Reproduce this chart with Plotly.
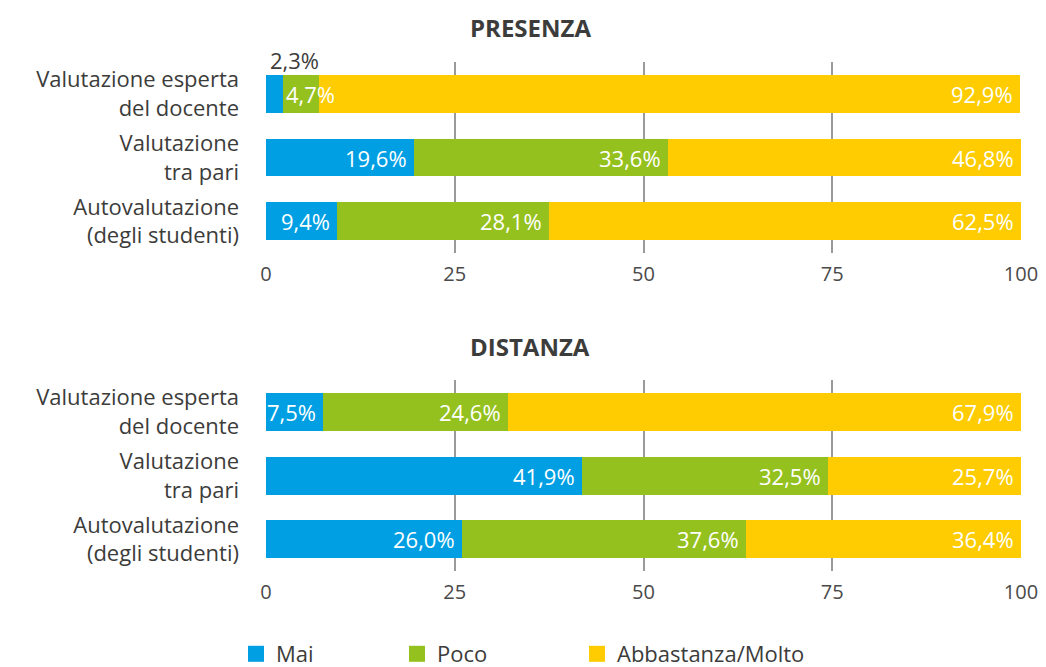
import plotly.graph_objects as go

categories = ["Valutazione esperta<br>del docente", "Valutazione<br>tra pari", "Autovalutazione<br>(degli studenti)"]
series_names = ["Mai", "Poco", "Abbastanza/Molto"]
colors = ["#009FE3", "#95C11F", "#FECC00"]

presenza_mai = [2.3, 19.6, 9.4]
presenza_poco = [4.7, 33.6, 28.1]
presenza_abb = [92.9, 46.8, 62.5]

distanza_mai = [7.5, 41.9, 26.0]
distanza_poco = [24.6, 32.5, 37.6]
distanza_abb = [67.9, 25.7, 36.4]

panel_titles = ["PRESENZA", "DISTANZA"]
tick_vals = [0, 25, 50, 75, 100]

FONT = "Open Sans"
DARK = "#3C3C3B"
# page has an 8px body margin; figure coordinates are page coordinates minus 8
W, H = 1038, 667
ML, MR = 258, 25
PW = W - ML - MR

def py(pix):
    return 1 - pix / H

def px(pix):
    return (pix - ML) / PW

fig = go.Figure()
panels = [
    ([presenza_mai, presenza_poco, presenza_abb], "x", "y", (54, 246), 20),
    ([distanza_mai, distanza_poco, distanza_abb], "x2", "y2", (373, 565), 340),
]
annotations = []
for pi, (vals, xa, ya, (top, bot), title_y) in enumerate(panels):
    cum = [0.0] * len(categories)
    for si, (name, col, v) in enumerate(zip(series_names, colors, vals)):
        fig.add_trace(go.Bar(
            y=categories, x=v, orientation="h", name=name,
            marker=dict(color=col, line=dict(width=0)),
            xaxis=xa, yaxis=ya, showlegend=False, hoverinfo="skip",
        ))
        for ci, val in enumerate(v):
            txt = f"{val:.1f}".replace(".", ",") + "%"
            start = cum[ci]
            end = min(cum[ci] + val, 100)
            if val < 3:
                annotations.append(dict(x=start, y=categories[ci], xref=xa, yref=ya, text=txt,
                                        showarrow=False, xanchor="left", xshift=2, yshift=34,
                                        font=dict(family=FONT, size=22, color=DARK)))
            elif val < 6:
                annotations.append(dict(x=start, y=categories[ci], xref=xa, yref=ya, text=txt,
                                        showarrow=False, xanchor="left", xshift=1,
                                        font=dict(family=FONT, size=22, color="white")))
            else:
                annotations.append(dict(x=end, y=categories[ci], xref=xa, yref=ya, text=txt,
                                        showarrow=False, xanchor="right", xshift=-5,
                                        font=dict(family=FONT, size=22, color="white")))
            cum[ci] = cum[ci] + val
    annotations.append(dict(x=px(522), y=py(title_y), xref="paper", yref="paper",
                            text=f"<b>{panel_titles[pi]}</b>", showarrow=False,
                            xanchor="center", yanchor="middle",
                            font=dict(family=FONT, size=24, color=DARK)))

# legend entries (square markers)
legend_ids = ["legend", "legend2", "legend3"]
for name, col, lid in zip(series_names, colors, legend_ids):
    fig.add_trace(go.Scatter(
        x=[None], y=[None], mode="markers", name=name, legend=lid,
        marker=dict(symbol="square", size=18, color=col),
        xaxis="x", yaxis="y", hoverinfo="skip", showlegend=True,
    ))

axis_common = dict(range=[0, 100], tickvals=tick_vals, showgrid=True, gridcolor="#9A9A9A",
                   gridwidth=2, zeroline=False, showline=False, ticks="", ticklabelstandoff=7,
                   tickfont=dict(family=FONT, size=20, color="#4A4A4A"), fixedrange=True)
yaxis_common = dict(range=[2.5, -0.5], showgrid=False, zeroline=False, showline=False, ticks="",
                    tickfont=dict(family=FONT, size=22, color=DARK), ticklabelstandoff=26,
                    fixedrange=True)

fig.update_layout(
    width=W, height=H, barmode="stack", bargap=0.406,
    plot_bgcolor="white", paper_bgcolor="white",
    margin=dict(l=ML, r=MR, t=0, b=0),
    font=dict(family=FONT, color=DARK),
    xaxis=dict(domain=[0, 1], anchor="y", **axis_common),
    yaxis=dict(domain=[py(246), py(54)], anchor="x", **yaxis_common),
    xaxis2=dict(domain=[0, 1], anchor="y2", **axis_common),
    yaxis2=dict(domain=[py(565), py(373)], anchor="x2", **yaxis_common),
    annotations=annotations,
)

leg_x = [228, 389, 569]
for lid, lx in zip(legend_ids, leg_x):
    fig.update_layout({lid: dict(x=px(lx), y=py(648), xref="paper", yref="paper",
                                 xanchor="left", yanchor="middle", orientation="h",
                                 font=dict(family=FONT, size=22, color=DARK),
                                 bgcolor="rgba(0,0,0,0)", itemclick=False, itemdoubleclick=False)})

fig.write_html("out.html")
